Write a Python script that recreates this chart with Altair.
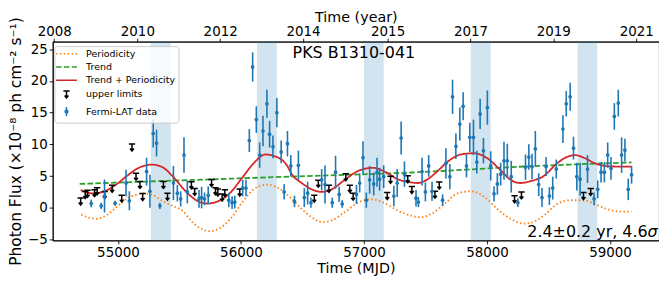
import altair as alt
import pandas as pd

# ---------------- data ----------------
source_name = "PKS B1310-041"
period_text = "2.4\u00b10.2 yr, 4.6"
sigma_text = "\u03c3"

series_names = ["Periodicity", "Trend", "Trend + Periodicity", "upper limits", "Fermi-LAT data"]
series_colors = ["#ff7f0e", "#2ca02c", "#d62728", "#000000", "#1f77b4"]

# upper limits (MJD, flux)
ul_mjd = [54697, 54734, 54753, 54810, 54831, 54893, 54953, 55031, 55114, 55147,
          55179, 55201, 55370, 55403, 55597, 55624, 55761, 55793, 55812, 55847,
          55869, 55990, 56596, 56629, 56715, 56852, 56885, 56912, 57189, 57216,
          57356, 57389, 57577, 57612, 58224, 58280, 58784, 58843]
ul_flux = [0.98, 2.0, 2.2, 2.3, 2.6, 2.0, 3.0, 1.44, 9.5, 4.9,
           3.6, 1.7, 3.6, 1.75, 3.55, 2.5, 3.9, 2.6, 2.4, 1.6,
           2.3, 2.4, 1.44, 3.8, 3.0, 4.8, 3.0, 1.75, 1.85, 4.4,
           4.5, 2.8, 2.06, 3.5, 1.34, 1.95, 1.85, 2.5]

# Fermi-LAT detections (MJD, flux, 1-sigma error)
pt_mjd = [54783, 54864, 54891, 54977, 55066, 55093, 55233, 55260, 55287, 55314,
          55341, 55451, 55483, 55510, 55537, 55564, 55659, 55680, 55704, 55734,
          55901, 55928, 55950, 56014, 56041, 56068, 56095, 56125, 56152, 56179,
          56211, 56233, 56260, 56292, 56327, 56351, 56378, 56405, 56435, 56467,
          56515, 56542, 56569, 56656, 56683, 56742, 56769, 56798, 56823, 56939,
          56965, 56992, 57019, 57046, 57079, 57106, 57127, 57160, 57243, 57270,
          57302, 57329, 57423, 57442, 57472, 57499, 57526, 57553, 57639, 57666,
          57698, 57720, 57747, 57779, 57806, 57833, 57860, 57890, 57917, 57944,
          57971, 58003, 58030, 58057, 58084, 58111, 58138, 58165, 58197, 58251,
          58313, 58340, 58366, 58393, 58420, 58447, 58480, 58507, 58534, 58563,
          58617, 58644, 58676, 58703, 58730, 58757, 58817, 58870, 58900, 58927,
          58954, 58981, 59008, 59035, 59067, 59094, 59121, 59148, 59175]
pt_flux = [0.67, 0.3, 1.85, 0.7, 3.9, 1.1, 5.7, 2.6, 11.7, 10.2,
           0.3, 3.9, 2.3, 1.4, 8.3, 2.5, 1.4, 1.6, 1.4, 1.95,
           1.2, 0.8, 0.9, 3.1, 3.1, 10.6, 22.2, 13.9, 8.3, 12.1,
           16.4, 11.6, 9.6, 15.0, 8.8, 2.5, 10.1, 6.6, 1.0, 6.7,
           1.6, 2.3, 0.8, 4.4, 3.65, 0.8, 5.6, 2.1, 0.6, 2.1,
           3.9, 7.9, 1.2, 4.4, 3.75, 5.6, 4.5, 4.9, 1.85, 3.9,
           11.0, 5.3, 1.5, 0.9, 5.7, 2.5, 6.6, 2.6, 1.2, 7.0,
           4.9, 17.5, 9.7, 13.2, 16.0, 6.6, 11.1, 11.1, 7.2, 14.8,
           9.0, 15.8, 6.6, 2.2, 3.75, 5.3, 7.4, 7.4, 4.9, 0.8,
           6.4, 8.0, 6.5, 9.3, 3.65, 1.6, 6.5, 1.85, 3.1, 6.1,
           12.4, 16.4, 17.5, 9.4, 4.9, 4.5, 6.1, 1.4, 2.9, 5.6,
           5.6, 8.3, 6.2, 14.4, 16.5, 8.3, 9.1, 2.9, 5.2]
pt_err = [0.6, 0.5, 2.6, 0.4, 2.1, 1.5, 2.2, 2.6, 2.2, 2.1,
          0.5, 2.7, 1.3, 1.2, 2.8, 1.8, 1.4, 1.7, 1.0, 1.4,
          1.1, 1.0, 1.0, 1.3, 1.3, 1.8, 2.3, 2.1, 2.0, 2.4,
          2.2, 2.1, 1.8, 2.3, 1.8, 1.2, 2.0, 1.7, 0.9, 2.3,
          1.5, 1.8, 0.8, 1.7, 3.0, 0.8, 2.6, 1.2, 0.6, 1.5,
          1.5, 2.6, 1.2, 2.2, 1.8, 2.3, 1.8, 1.8, 1.6, 2.2,
          2.6, 2.0, 1.3, 0.8, 2.2, 1.5, 1.7, 1.5, 0.9, 2.4,
          2.0, 2.7, 2.0, 2.6, 2.2, 1.8, 2.3, 2.8, 1.8, 2.4,
          2.0, 2.7, 2.3, 1.2, 1.7, 1.8, 3.0, 2.7, 2.5, 0.7,
          2.0, 2.0, 2.0, 2.8, 1.8, 1.5, 1.5, 1.4, 1.8, 1.5,
          2.2, 2.0, 2.2, 1.8, 2.2, 2.6, 2.2, 1.0, 1.4, 1.6,
          1.6, 2.0, 1.8, 2.1, 2.1, 2.8, 1.8, 1.7, 1.4]

# periodic component (orange dotted)
per_mjd = [54702, 54769, 54823, 54904, 54985, 55066, 55160, 55195, 55282, 55362,
           55443, 55524, 55605, 55686, 55739, 55820, 55915, 56009, 56103, 56211,
           56305, 56413, 56494, 56575, 56656, 56736, 56844, 56952, 57060, 57168,
           57275, 57383, 57464, 57545, 57653, 57760, 57868, 57976, 58084, 58192,
           58299, 58353, 58461, 58569, 58676, 58784, 58879, 58973, 59081, 59175]
per_val = [-1.08, -1.6, -1.75, -1.23, 0.05, 1.34, 2.1, 2.26, 2.0, 1.08,
           0.3, -0.46, -2.26, -3.4, -3.7, -3.3, -1.75, 0.8, 2.9, 3.65,
           3.1, 1.4, -0.2, -1.5, -2.26, -2.0, -0.7, 0.82, 1.34, 0.72,
           -0.46, -1.23, -1.5, -1.0, 0.57, 2.26, 2.6, 1.75, -0.2, -1.75,
           -2.5, -2.4, -1.23, 0.57, 1.18, 1.18, 0.57, -0.2, -0.6, -0.6]

# trend (green dashed)
trend_mjd = [54689, 55443, 56454, 57383, 58353, 59175]
trend_val = [3.75, 4.27, 4.94, 5.56, 6.55, 7.15]

# trend + periodicity (red)
tot_mjd = [54697, 54796, 54877, 54985, 55066, 55160, 55276, 55362, 55443, 55551,
           55645, 55726, 55820, 55915, 56009, 56103, 56197, 56278, 56373, 56413,
           56494, 56575, 56656, 56736, 56844, 56952, 57073, 57168, 57275, 57383,
           57437, 57518, 57599, 57679, 57787, 57895, 58003, 58111, 58192, 58272,
           58353, 58461, 58569, 58649, 58717, 58798, 58879, 58959, 59054, 59175]
tot_val = [2.8, 2.26, 2.5, 3.65, 4.9, 6.2, 6.8, 6.4, 5.0, 2.6,
           1.08, 0.67, 1.08, 2.4, 4.7, 7.0, 8.4, 8.1, 6.7, 5.3,
           3.9, 2.9, 2.5, 2.9, 4.4, 5.8, 6.3, 5.7, 4.5, 4.0,
           3.9, 4.5, 5.8, 7.25, 8.4, 8.6, 7.8, 5.9, 4.4, 3.9,
           4.2, 5.0, 7.0, 8.0, 8.3, 7.8, 7.0, 6.6, 6.5, 6.5]

# shaded high-state bands
band_start = [55268, 56130, 57000, 57868, 58736]
band_end = [55430, 56292, 57160, 58030, 58897]

# axes
mjd_ticks = [55000, 56000, 57000, 58000, 59000]
flux_ticks = [-5, 0, 5, 10, 15, 20, 25]
year_tick_mjd = [54482, 55158, 55831, 56504, 57192, 57866, 58539, 59213]
year_tick_labels = ["2008", "2010", "2012", "2014", "2015", "2017", "2019", "2021"]

# ---------------- tables ----------------
ul_df = pd.DataFrame({"mjd": ul_mjd, "flux": ul_flux, "series": "upper limits"})
pt_df = pd.DataFrame({"mjd": pt_mjd, "flux": pt_flux, "err": pt_err})
pt_df["lo"] = pt_df["flux"] - pt_df["err"]
pt_df["hi"] = pt_df["flux"] + pt_df["err"]
lines_df = pd.concat([
    pd.DataFrame({"mjd": per_mjd, "val": per_val, "series": series_names[0]}),
    pd.DataFrame({"mjd": trend_mjd, "val": trend_val, "series": series_names[1]}),
    pd.DataFrame({"mjd": tot_mjd, "val": tot_val, "series": series_names[2]}),
], ignore_index=True)
bands_df = pd.DataFrame({"start": band_start, "end": band_end})
title_df = pd.DataFrame({"t": [source_name]})
ann_df = pd.DataFrame({"t": [period_text], "s": [sigma_text]})

W, H = 610, 200
FONT = "DejaVu Sans"

xs = alt.Scale(domain=[54470, 59398], nice=False, zero=False)
ys = alt.Scale(domain=[-5.15, 26.2], nice=False, zero=False)

line_path = "M-3,0L3,0"
ul_path = "M-0.9,-1L0.9,-1M0,-1L0,1M-0.55,0.3L0,1L0.55,0.3"
pt_path = "M0,-1.3L0,1.3M0.4,0A0.4,0.4,0,1,1,-0.4,0A0.4,0.4,0,1,1,0.4,0"
shape_paths = [line_path, line_path, line_path, ul_path, pt_path]
dash_range = [[1.5, 2.4], [5.5, 2.4], [1, 0], [1, 0], [1, 0]]

leg = alt.Legend(title=None, orient="none", legendX=1.6, legendY=4.5, padding=3,
                 symbolSize=49, symbolStrokeWidth=1.5, symbolOffset=4.5,
                 labelOffset=15, rowPadding=2.3, labelFont=FONT, labelFontSize=9.5,
                 labelColor="black", fillColor="rgba(255,255,255,0.8)",
                 strokeColor="#cccccc", cornerRadius=3)
color_enc = alt.Color("series:N", scale=alt.Scale(domain=series_names, range=series_colors), legend=leg)
dash_enc = alt.StrokeDash("series:N", scale=alt.Scale(domain=series_names, range=dash_range), legend=leg)
shape_enc = alt.Shape("series:N", scale=alt.Scale(domain=series_names, range=shape_paths), legend=leg)

top_label_expr = ("[" + ",".join("'%s'" % s for s in year_tick_labels) + "][indexof(["
                  + ",".join(str(v) for v in year_tick_mjd) + "], datum.value)]")

bands = alt.Chart(bands_df).mark_rect(color="#1f77b4", opacity=0.2).encode(
    x=alt.X("start:Q", scale=xs,
            axis=alt.Axis(orient="top", values=year_tick_mjd, labelExpr=top_label_expr,
                          title="Time (year)", titlePadding=0, labelPadding=0,
                          labelFlush=False, labelOverlap=False)),
    x2="end:Q",
)

lines = alt.Chart(lines_df).mark_line(strokeWidth=1.8, interpolate="monotone").encode(
    x=alt.X("mjd:Q", scale=xs,
            axis=alt.Axis(orient="bottom", values=mjd_ticks, format="d", title="Time (MJD)",
                          titlePadding=2, labelFlush=False, labelOverlap=False)),
    y=alt.Y("val:Q", scale=ys,
            axis=alt.Axis(values=flux_ticks, title="Photon Flux  (\u00d710\u207b\u2078 ph cm\u207b\u00b2 s\u207b\u00b9)",
                          titlePadding=4, titleFontSize=15.5, labelFlush=False, labelOverlap=False)),
    color=color_enc,
    strokeDash=dash_enc,
    detail="series:N",
)

uls = alt.Chart(ul_df).mark_point(filled=False, size=49, strokeWidth=1.5, opacity=1).encode(
    x=alt.X("mjd:Q", scale=xs, axis=None),
    y=alt.Y("flux:Q", scale=ys, axis=None),
    color=color_enc,
    shape=shape_enc,
)

errbars = alt.Chart(pt_df).mark_rule(color="#1f77b4", strokeWidth=1.6).encode(
    x=alt.X("mjd:Q", scale=xs, axis=None),
    y=alt.Y("lo:Q", scale=ys, axis=None),
    y2="hi:Q",
)

points = alt.Chart(pt_df).mark_circle(color="#1f77b4", size=14, opacity=1).encode(
    x=alt.X("mjd:Q", scale=xs, axis=None),
    y=alt.Y("flux:Q", scale=ys, axis=None),
)

title_txt = alt.Chart(title_df).mark_text(font=FONT, fontSize=16, align="center",
                                           baseline="alphabetic", color="black").encode(
    x=alt.value(303), y=alt.value(16), text="t:N")

ann_txt = alt.Chart(ann_df).mark_text(font=FONT, fontSize=16, align="right",
                                       baseline="alphabetic", color="black").encode(
    x=alt.value(W - 11.5), y=alt.value(H - 3.5), text="t:N")
sig_txt = alt.Chart(ann_df).mark_text(font=FONT, fontSize=16, fontStyle="italic", align="left",
                                       baseline="alphabetic", color="black").encode(
    x=alt.value(W - 11.5), y=alt.value(H - 3.5), text="s:N")

chart = alt.layer(bands, lines, uls, errbars, points, title_txt, ann_txt, sig_txt).properties(
    width=W, height=H, padding={"left": 0, "top": 0, "right": 0, "bottom": 0}
).resolve_axis(x="independent", y="independent").configure_view(
    stroke="black", strokeWidth=0.9
).configure_axis(
    labelFont=FONT, titleFont=FONT, labelFontSize=13.5, titleFontSize=14.4,
    labelColor="black", titleColor="black", tickColor="black", domainColor="black",
    titleFontWeight="normal", grid=False, tickSize=3.5, labelPadding=2,
    domainWidth=0.9, tickWidth=0.9,
)

chart.save("out.html", embed_options={"renderer": "svg", "actions": False})
